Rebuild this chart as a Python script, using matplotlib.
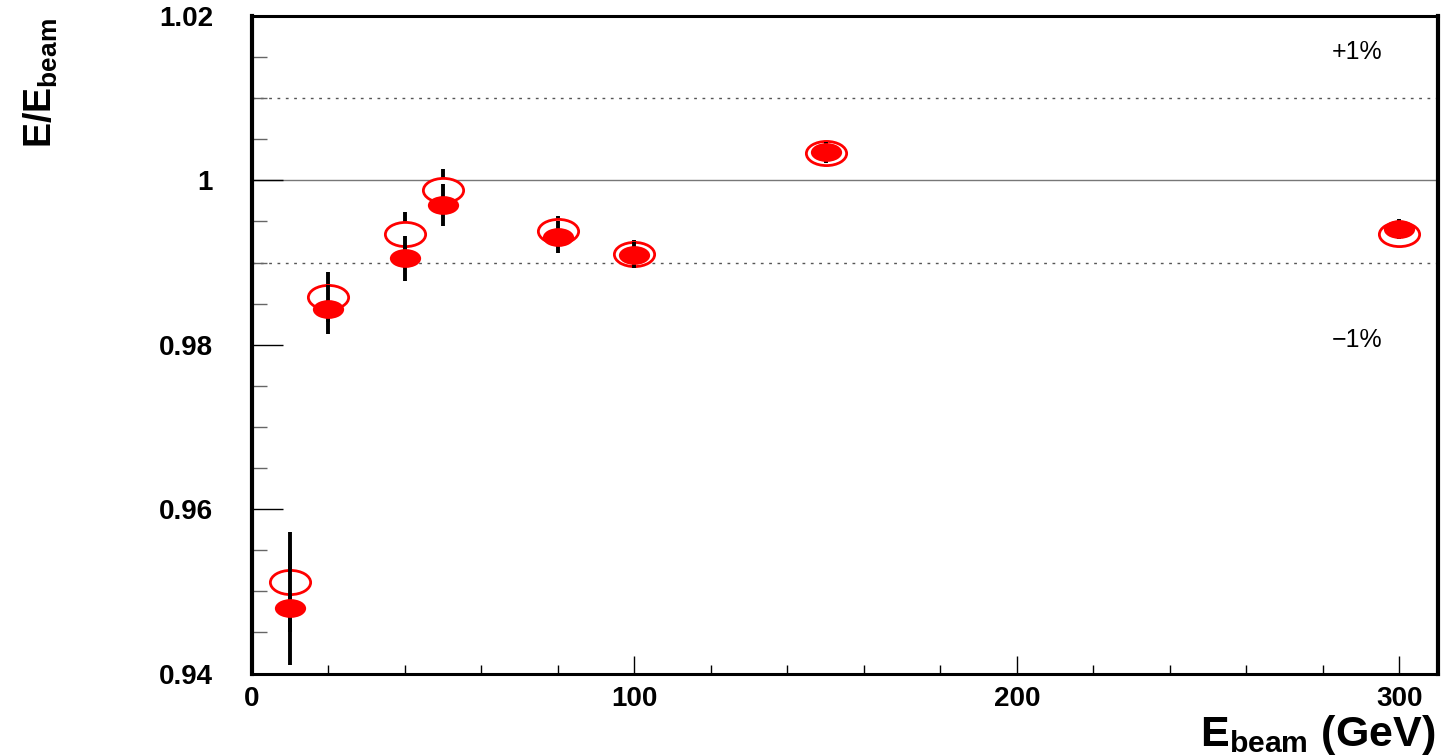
import numpy as np
import matplotlib
matplotlib.use('Agg')
import matplotlib.pyplot as plt
from matplotlib.path import Path
from matplotlib.ticker import MultipleLocator

# -----------------------
# response vs beam energy
e_beam = [10, 20, 40, 50, 80, 100, 150, 300]
resp_filled = [0.9480, 0.9843, 0.9905, 0.9970, 0.9931, 0.9909, 1.0034, 0.9941]
err_filled = [0.0070, 0.0030, 0.0027, 0.0026, 0.0019, 0.0016, 0.0013, 0.0012]
resp_open = [0.9511, 0.9858, 0.9935, 0.9988, 0.9938, 0.9911, 1.0033, 0.9935]
err_open = [0.0061, 0.0030, 0.0026, 0.0026, 0.0019, 0.0017, 0.0012, 0.0012]

x_ticks = [0, 100, 200, 300]
y_ticks = [0.94, 0.96, 0.98, 1.0, 1.02]
y_tick_labels = ['0.94', '0.96', '0.98', '1', '1.02']
band = 0.01
# -----------------------

plt.rcParams['font.family'] = ['Liberation Sans', 'DejaVu Sans']
plt.rcParams['mathtext.fontset'] = 'custom'
plt.rcParams['mathtext.bf'] = 'Liberation Sans:bold'
plt.rcParams['mathtext.rm'] = 'Liberation Sans'
plt.rcParams['mathtext.it'] = 'Liberation Sans:italic'

# flattened circle used as marker
circ = Path.unit_circle()
ell = Path(circ.vertices * np.array([1.0, 0.6]), circ.codes)

W, H = 1443, 755
fig = plt.figure(figsize=(W / 100, H / 100), dpi=100)
ax = fig.add_axes([252 / W, 1 - 673.5 / H, 1185.5 / W, 657.5 / H])
ax.set_xlim(0, 310)
ax.set_ylim(0.94, 1.02)

# reference lines
ax.axhline(1.0, color='#777777', lw=1, zorder=1)
for s in (1, -1):
    ax.axhline(1.0 + s * band, color='#555555', lw=1, ls=(0, (2, 4)), zorder=1)

# open points
ax.errorbar(e_beam, resp_open, yerr=err_open, fmt='none', ecolor='black',
            elinewidth=2.8, capsize=0, zorder=2)
ax.plot(e_beam, resp_open, ls='none', marker=ell, ms=29, mfc='white',
        mec='red', mew=2, zorder=3)

# filled points
ax.errorbar(e_beam, resp_filled, yerr=err_filled, fmt='none', ecolor='black',
            elinewidth=2.8, capsize=0, zorder=4)
ax.plot(e_beam, resp_filled, ls='none', marker=ell, ms=22.5, mfc='red',
        mec='red', mew=0, zorder=5)

ax.text(289, 1.0 + band + 0.0056, '+1%', ha='center', va='center', fontsize=18)
ax.text(289, 1.0 - band - 0.0094, '\u22121%', ha='center', va='center', fontsize=18)

# axes / ticks
ax.set_xticks(x_ticks)
ax.set_yticks(y_ticks, labels=y_tick_labels)
ax.xaxis.set_minor_locator(MultipleLocator(20))
ax.yaxis.set_minor_locator(MultipleLocator(0.005))
ax.tick_params(which='both', direction='in', top=False, right=False)
ax.tick_params(axis='y', which='major', length=22, width=1, pad=28, labelsize=20)
ax.tick_params(axis='y', which='minor', length=11, width=1, color='#666666')
ax.tick_params(axis='x', which='major', length=13, width=1, pad=9, labelsize=20)
ax.tick_params(axis='x', which='minor', length=6.5, width=1)
for lab in ax.get_xticklabels() + ax.get_yticklabels():
    lab.set_fontweight('bold')

for side in ('left', 'right'):
    ax.spines[side].set_linewidth(3)
for side in ('top', 'bottom'):
    ax.spines[side].set_linewidth(2.2)

ax.set_xlabel(r'$\mathbf{E_{beam}\ (GeV)}$', fontsize=31, ha='right', va='top')
ax.xaxis.set_label_coords(0.998, -0.060)

fig.text(41 / W, 1 - 18 / H, r'$\mathbf{E/E_{beam}}$', rotation=90,
         ha='center', va='top', fontsize=27)

fig.savefig('out.png', dpi=100)
